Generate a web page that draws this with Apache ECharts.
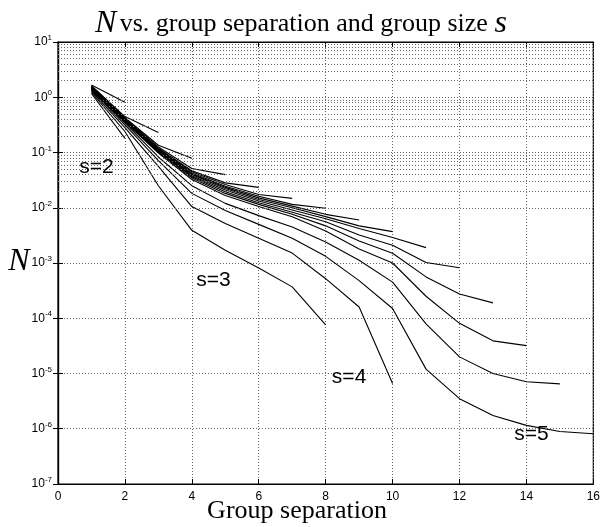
<!DOCTYPE html>
<html><head><meta charset="utf-8">
<script src="https://cdn.jsdelivr.net/npm/echarts/dist/echarts.min.js"></script>
<style>html,body{margin:0;padding:0;background:#fff;}#c{width:603px;height:527px;}</style>
</head><body><div id="c"></div>
<script>
// Curves: values of N at separation 1,2,3,... (each curve ends at its last value)
const curveT2  = [1.66, 0.81];
const curveT3  = [1.62, 0.447, 0.229];
const curveT4  = [1.58, 0.427, 0.135, 0.0785];
const curveT5  = [1.57, 0.417, 0.126, 0.0513, 0.0398];
const curveT6  = [1.55, 0.407, 0.120, 0.0468, 0.0282, 0.0234];
const curveT7  = [1.53, 0.398, 0.117, 0.0447, 0.0263, 0.0174, 0.0148];
const curveT8  = [1.51, 0.398, 0.115, 0.0427, 0.0245, 0.0162, 0.0115, 0.0098];
const curveT9  = [1.50, 0.389, 0.112, 0.0407, 0.0234, 0.0151, 0.0107, 0.0076, 0.0060];
const curveT10 = [1.48, 0.389, 0.110, 0.0398, 0.0224, 0.0141, 0.0100, 0.0069, 0.0047, 0.0037];
const curveT11 = [1.46, 0.380, 0.107, 0.0380, 0.0209, 0.0132, 0.0091, 0.0063, 0.0042, 0.0029, 0.0019];
const curveT12 = [1.45, 0.372, 0.105, 0.0363, 0.0195, 0.0123, 0.0083, 0.0056, 0.0032, 0.0021, 0.00102, 0.00082];
const curveT13 = [1.43, 0.363, 0.102, 0.0347, 0.0182, 0.0115, 0.0076, 0.0047, 0.0025, 0.0015, 5.6e-4, 2.75e-4, 1.9e-4];
const curveT14 = [1.41, 0.355, 0.098, 0.0324, 0.0166, 0.0105, 0.0069, 0.0038, 0.0018, 0.0010, 2.5e-4, 8.1e-5, 3.9e-5, 3.2e-5];
const curveT15 = [1.38, 0.339, 0.083, 0.0251, 0.0120, 0.0072, 0.0045, 0.0024, 0.00112, 4.5e-4, 7.9e-5, 2.0e-5, 1.0e-5, 7.1e-6, 6.5e-6];
const curveT16 = [1.35, 0.316, 0.071, 0.0182, 0.0089, 0.0050, 0.0028, 0.00132, 4.8e-4, 1.5e-4, 1.2e-5, 3.5e-6, 1.74e-6, 1.15e-6, 8.9e-7, 8.1e-7];
const curveL10 = [1.29, 0.282, 0.056, 0.0105, 0.0052, 0.0028, 0.00151, 5.2e-4, 1.6e-4, 6.6e-6];
const curveL8  = [1.23, 0.240, 0.025, 0.0039, 0.0017, 8.1e-4, 3.7e-4, 7.6e-5];
const curveL2  = [1.17, 0.18];
const curves = [curveT2, curveT3, curveT4, curveT5, curveT6, curveT7, curveT8, curveT9, curveT10,
  curveT11, curveT12, curveT13, curveT14, curveT15, curveT16, curveL10, curveL8, curveL2];

// annotations
const noteTexts = ['s=2', 's=3', 's=4', 's=5'];
const noteX = [1.15, 4.65, 8.7, 14.15];
const noteY = [0.055, 4.9e-4, 8.7e-6, 8.0e-7];

// axis ticks
const xTicks = [0, 2, 4, 6, 8, 10, 12, 14, 16];

const serif = 'Liberation Serif, Times New Roman, serif';
const sans = 'Liberation Sans, Arial, Helvetica, sans-serif';

// minor log grid values (2..9 within each decade)
const minorVals = [];
for (let e = -7; e < 1; e++) for (let k = 2; k <= 9; k++) minorVals.push(k * Math.pow(10, e));

const gridLine = {type: [1, 2], color: '#666', width: 1};

const series = curves.map((c, i) => ({
  type: 'line', data: c.map((v, j) => [j + 1, v]), showSymbol: false, symbol: 'none',
  lineStyle: {color: '#000', width: 1.1}, silent: true, animation: false, z: 3,
  markLine: i === 0 ? {
    silent: true, symbol: ['none', 'none'], animation: false, label: {show: false},
    lineStyle: gridLine, emphasis: {disabled: true},
    data: minorVals.map(v => ({yAxis: v}))
  } : undefined
}));
series.push({
  type: 'scatter', data: noteTexts.map((t, i) => [noteX[i], noteY[i]]), symbolSize: 1,
  silent: true, animation: false, z: 5,
  itemStyle: {opacity: 0},
  label: {show: true, position: 'inside', formatter: p => noteTexts[p.dataIndex],
    fontFamily: sans, fontSize: 21, color: '#000', opacity: 1, textBorderWidth: 0}
});

const chart = echarts.init(document.getElementById('c'), null, {renderer: 'canvas'});
chart.setOption({
  animation: false,
  backgroundColor: '#fff',
  grid: {left: 58, right: 9, top: 42, bottom: 43, show: true, borderColor: '#000', borderWidth: 1.2, backgroundColor: 'transparent'},
  graphic: [{
    type: 'text', x: 301, y: 24,
    style: {
      text: '{n|N} {t|vs. group separation and group size}  {n|s}',
      align: 'center', verticalAlign: 'middle',
      rich: {
        n: {fontFamily: serif, fontStyle: 'italic', fontSize: 32, fill: '#000'},
        t: {fontFamily: serif, fontSize: 26, fill: '#000'}
      }
    }
  }, {
    type: 'text', x: 297, y: 511,
    style: {text: 'Group separation', align: 'center', verticalAlign: 'middle',
      fontFamily: serif, fontSize: 26, fill: '#000'}
  }, {
    type: 'text', x: 19, y: 262,
    style: {text: 'N', align: 'center', verticalAlign: 'middle',
      fontFamily: serif, fontStyle: 'italic', fontSize: 32, fill: '#000'}
  }],
  xAxis: [{
    type: 'value', min: 0, max: 16, interval: 2,
    axisLine: {show: true, lineStyle: {color: '#000', width: 1.2}},
    axisTick: {show: true, inside: true, length: 5, lineStyle: {color: '#000'}},
    axisLabel: {fontFamily: sans, fontSize: 12, color: '#000', margin: 7,
      customValues: xTicks},
    splitLine: {show: true, lineStyle: gridLine}
  }, {
    type: 'value', min: 0, max: 16, interval: 2, position: 'top',
    axisLine: {show: true, lineStyle: {color: '#000', width: 1.2}},
    axisTick: {show: true, inside: true, length: 5, lineStyle: {color: '#000'}},
    axisLabel: {show: false}, splitLine: {show: false}
  }],
  yAxis: [{
    type: 'log', logBase: 10, min: 1e-7, max: 10, interval: 1,
    axisLine: {show: true, lineStyle: {color: '#000', width: 1.2}},
    axisTick: {show: true, inside: true, length: 5, lineStyle: {color: '#000'}},
    axisLabel: {
      margin: 6, color: '#000',
      formatter: v => '{b|10}{s|' + Math.round(Math.log10(v)) + '}',
      rich: {
        b: {fontFamily: sans, fontSize: 12, color: '#000'},
        s: {fontFamily: sans, fontSize: 8, color: '#000', verticalAlign: 'top', padding: [0, 0, 8, 0]}
      }
    },
    splitLine: {show: true, lineStyle: gridLine}
  }, {
    type: 'log', logBase: 10, min: 1e-7, max: 10, interval: 1, position: 'right',
    axisLine: {show: true, lineStyle: {color: '#000', width: 1.2}},
    axisTick: {show: true, inside: true, length: 5, lineStyle: {color: '#000'}},
    axisLabel: {show: false}, splitLine: {show: false}
  }],
  series: series
});
</script></body></html>
